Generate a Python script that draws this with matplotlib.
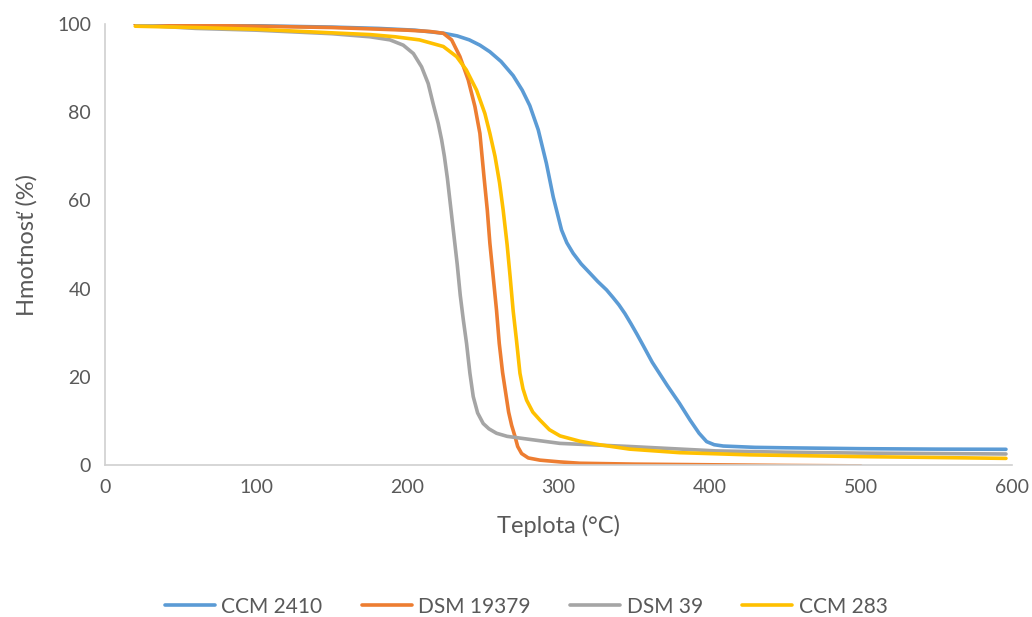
import matplotlib
matplotlib.use("Agg")
import matplotlib.pyplot as plt

# TGA curves: temperature (°C) vs. mass (%)
ccm2410_t = [20, 60, 100, 150, 181, 205, 224, 233, 241, 248, 254.6, 262, 270, 276, 281, 286.6,
             292, 296.5, 302, 305.5, 309.7, 315, 320.8, 326, 331.8, 336, 340, 344, 348, 352, 356,
             362, 372, 380, 387, 393, 398, 403, 409, 430, 450, 500, 550, 596]
ccm2410_m = [100, 99.8, 99.6, 99.3, 99.0, 98.6, 97.9, 97.3, 96.4, 95.2, 93.7, 91.5, 88.3, 85.0,
             81.5, 76.0, 68.4, 60.8, 53.3, 50.4, 48.0, 45.6, 43.5, 41.6, 39.7, 38.0, 36.3, 34.3,
             32.0, 29.6, 27.1, 23.3, 18.0, 14.0, 10.2, 7.2, 5.3, 4.6, 4.3, 4.0, 3.9, 3.7, 3.6,
             3.56]

dsm19379_t = [20, 60, 100, 150, 200, 215, 223.8, 229.3, 234.8, 240.3, 244.7, 248, 250.7, 252.9,
              254.6, 256.8, 259, 260.8, 263, 265, 267, 269, 271.2, 273, 275.6, 280, 287.7, 301,
              314, 350, 400, 450, 500]
dsm19379_m = [100, 99.7, 99.5, 99.2, 98.6, 98.3, 97.9, 96.4, 92.6, 87.3, 81.3, 75.2, 65.4, 57.8,
              50.3, 42.7, 35.1, 27.6, 21.0, 16.5, 12.0, 9.0, 6.5, 4.2, 2.6, 1.6, 1.1, 0.7, 0.4,
              0.2, 0.05, -0.1, -0.2]

dsm39_t = [21, 60, 100, 150, 175.3, 188.5, 197.3, 204, 209.4, 213.8, 217, 220.4, 222.7, 224.5,
           226.5, 228.5, 230.5, 233, 235, 237, 239.2, 241.4, 243.6, 246.5, 250.2, 254, 259, 266,
           276.7, 301, 314, 347, 404, 450, 500, 550, 596]
dsm39_m = [99.8, 99.0, 98.6, 97.8, 97.1, 96.4, 95.2, 93.3, 90.3, 86.5, 82.0, 77.5, 73.7, 70.0,
           65.0, 59.0, 53.0, 45.5, 38.5, 33.0, 27.5, 20.8, 15.5, 11.8, 9.4, 8.2, 7.2, 6.5, 6.0,
           4.9, 4.7, 4.2, 3.2, 2.9, 2.7, 2.6, 2.5]

ccm283_t = [20, 60, 100, 150, 175.3, 192, 208, 223.8, 232.6, 239, 245.8, 251.3, 254.6, 258,
            261, 263.4, 266, 268, 270, 272.2, 274.5, 276.5, 278.9, 283, 287.7, 294, 301, 314, 327,
            347, 380, 426.6, 500, 550, 596]
ccm283_m = [99.5, 99.2, 98.8, 98.0, 97.6, 97.1, 96.4, 94.9, 92.6, 89.6, 85.0, 79.7, 75.2, 70.0,
            64.0, 57.8, 50.0, 42.7, 35.0, 28.3, 20.8, 17.3, 14.7, 12.0, 10.2, 8.0, 6.6, 5.4, 4.6,
            3.6, 2.8, 2.3, 1.9, 1.7, 1.5]

series = [
    ("CCM 2410", ccm2410_t, ccm2410_m, "#5B9BD5"),
    ("DSM 19379", dsm19379_t, dsm19379_m, "#ED7D31"),
    ("DSM 39", dsm39_t, dsm39_m, "#A5A5A5"),
    ("CCM 283", ccm283_t, ccm283_m, "#FFC000"),
]

plt.rcParams['font.family'] = ['Lato', 'DejaVu Sans']
txt = "#595959"

fig = plt.figure(figsize=(10.32, 6.17), dpi=100)
ax = fig.add_axes([105 / 1032, 1 - 465 / 617, 907 / 1032, 441 / 617])

for name, t, m, c in series:
    ax.plot(t, m, color=c, lw=2.6, label=name, solid_capstyle='round', solid_joinstyle='round')

ax.set_xlim(0, 600)
ax.set_ylim(0, 100)
ax.set_xticks(range(0, 601, 100))
ax.set_yticks(range(0, 101, 20))
ax.tick_params(length=0, labelsize=14, colors=txt, pad=10)
for s in ["top", "right"]:
    ax.spines[s].set_visible(False)
for s in ["left", "bottom"]:
    ax.spines[s].set_color("#D0D0D0")
    ax.spines[s].set_linewidth(1.2)
ax.set_xlabel("Teplota (°C)", fontsize=17, color=txt, labelpad=14)
ax.set_ylabel("Hmotnosť (%)", fontsize=17, color=txt, labelpad=14)

fig.legend(loc="lower center", bbox_to_anchor=(0.51, -0.03), ncol=4, frameon=False,
           fontsize=15, labelcolor=txt, handlelength=2.4, columnspacing=1.9, handletextpad=0.3)

fig.savefig("out.png", dpi=100)
